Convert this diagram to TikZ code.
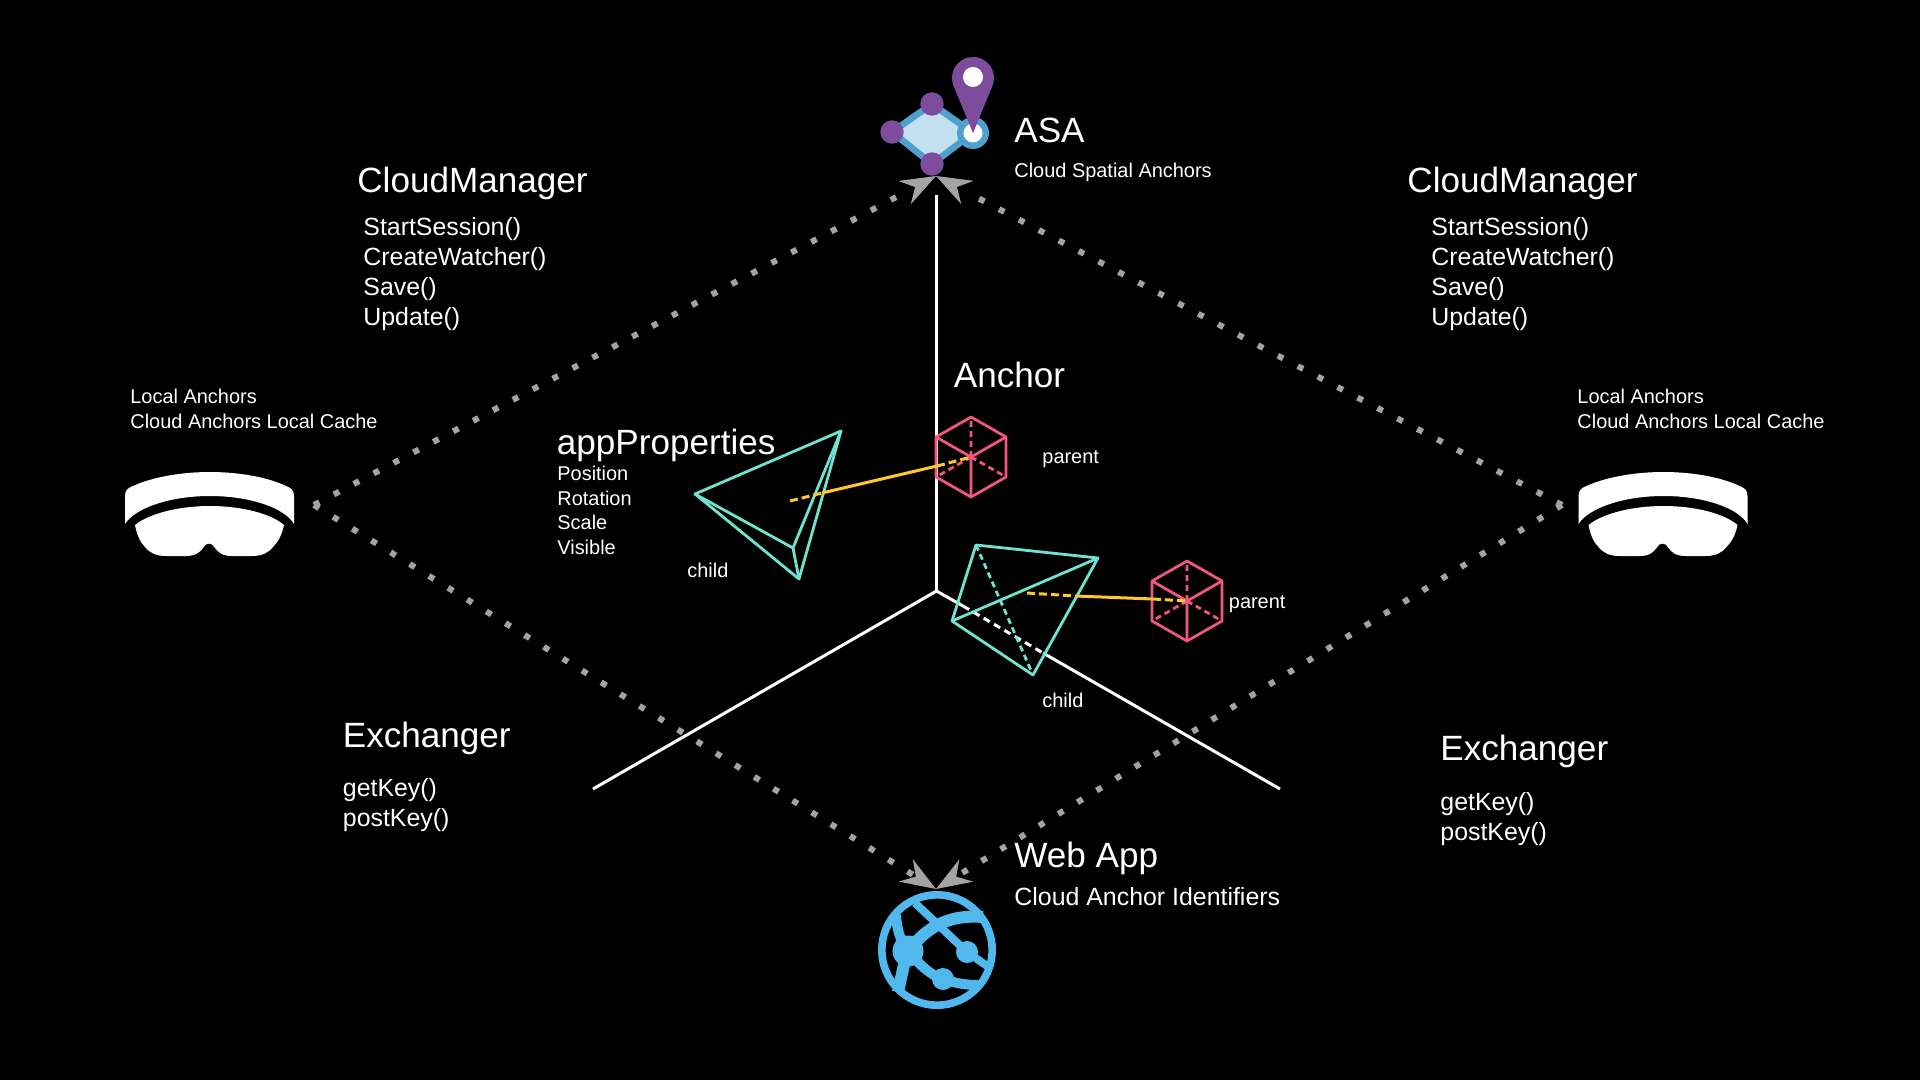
\documentclass[tikz,border=0pt]{standalone}
\usepackage{fontspec}
\setmainfont{Liberation Sans}
\usetikzlibrary{arrows.meta}
\definecolor{dotgray}{HTML}{A3A3A3}
\definecolor{cyanline}{HTML}{6FE3D0}
\definecolor{pinkline}{HTML}{F0567E}
\definecolor{goldline}{HTML}{FFC82D}
\definecolor{asapurple}{HTML}{7D4C9C}
\definecolor{asablue}{HTML}{50A0CF}
\definecolor{asalight}{HTML}{C3E1F0}
\definecolor{webblue}{HTML}{50B8EC}
\newcommand{\wingshape}{%
    \pgfpathmoveto{\pgfqpoint{0pt}{0pt}}%
    \pgfpathlineto{\pgfqpoint{-17.75pt}{6.6pt}}%
    \pgfpathlineto{\pgfqpoint{-11.85pt}{0pt}}%
    \pgfpathlineto{\pgfqpoint{-17.75pt}{-6.6pt}}%
    \pgfpathclose
    \pgfusepathqfill}
\pgfdeclarearrow{
  name=WingUp,
  setup code={
    \pgfarrowssettipend{0pt}
    \pgfarrowssetlineend{-18pt}
    \pgfarrowssetbackend{-17.75pt}
    \pgfarrowssetvisualbackend{-17.75pt}
  },
  drawing code={\wingshape}
}
\pgfdeclarearrow{
  name=WingDown,
  setup code={
    \pgfarrowssettipend{0pt}
    \pgfarrowssetlineend{-13pt}
    \pgfarrowssetbackend{-17.75pt}
    \pgfarrowssetvisualbackend{-17.75pt}
  },
  drawing code={\wingshape}
}
\tikzset{
  big/.style={text=white,inner sep=0pt,anchor=base west,font=\fontsize{17.55}{21}\selectfont},
  mid/.style={text=white,inner sep=0pt,anchor=north west,align=left,font=\fontsize{12.45}{15}\selectfont},
  small/.style={text=white,inner sep=0pt,anchor=north west,align=left,font=\fontsize{9.97}{12.25}\selectfont},
  linkbase/.style={draw=dotgray,line width=3pt,dash pattern=on 3pt off 8.25pt},
  linkup/.style={linkbase,-{WingUp[color=dotgray,fill=dotgray]}},
  linkdown/.style={linkbase,-{WingDown[color=dotgray,fill=dotgray]}},
  axis/.style={draw=white,line width=1.5pt},
  axisdash/.style={axis,dash pattern=on 3.5pt off 2.5pt},
  cy/.style={draw=cyanline,line width=1.4pt,line join=round},
  cydash/.style={cy,dash pattern=on 3pt off 2pt},
  pk/.style={draw=pinkline,line width=1.4pt,line join=round},
  pkdash/.style={pk,dash pattern=on 3pt off 2pt},
  gd/.style={draw=goldline,line width=1.5pt},
  gddash/.style={gd,dash pattern=on 4pt off 2pt},
  wb/.style={draw=webblue,line cap=butt},
  hexcube/.pic={
    \draw[pk] (0,-40) -- (35,-20) -- (35,20) -- (0,40) -- (-35,20) -- (-35,-20) -- cycle;
    \draw[pk] (-35,-20) -- (0,0) -- (35,-20) (0,0) -- (0,40);
    \draw[pkdash] (0,0) -- (0,-40) (0,0) -- (-35,20) (0,0) -- (35,20);
    \fill[pinkline] (0,0) circle (3);
  },
  headset/.pic={
    \fill[white] (125,524) -- (125,496) .. controls (125,490) and (128,488) .. (133,486)
      .. controls (155,476) and (185,472) .. (210,472)
      .. controls (235,472) and (265,476) .. (286,486)
      .. controls (291,488) and (294,490) .. (294,496) -- (294,524)
      .. controls (285,508) and (250,496) .. (210,496)
      .. controls (170,496) and (135,508) .. (125,524) -- cycle;
    \fill[white] (135,525) .. controls (150,513) and (180,506) .. (210,506)
      .. controls (240,506) and (270,513) .. (284,525)
      .. controls (282,535) and (278,542) .. (273,547)
      .. controls (268,553) and (262,556) .. (252,556)
      -- (232,556) .. controls (222,556) and (218,552) .. (215,548)
      .. controls (212,542) and (206,542) .. (203,548)
      .. controls (200,552) and (196,556) .. (186,556)
      -- (166,556) .. controls (156,556) and (150,553) .. (145,547)
      .. controls (140,542) and (137,535) .. (135,525) -- cycle;
  }
}
\begin{document}
\begin{tikzpicture}[x=0.5pt,y=-0.5pt]
\fill[black] (0,0) rectangle (1920,1080);
\useasboundingbox (0,0) rectangle (1920,1080);

% connection points
\coordinate (holoL) at (314,505);
\coordinate (holoR) at (1562,505);
\coordinate (asaTip) at (936,176);
\coordinate (webTip) at (936,889);
\coordinate (axisO) at (936.5,591);
\coordinate (axisUp) at (936.5,195);
\coordinate (axisLeft) at (593,789);
\coordinate (axisRight) at (1280,789);
\coordinate (axisD1) at (963,606);
\coordinate (axisD2) at (1043,653);

% axes
\draw[axis] (axisO) -- (axisUp);
\draw[axis,line join=miter] (axisLeft) -- (axisO) -- (axisD1);
\draw[axisdash] (axisD1) -- (axisD2);
\draw[axis] (axisD2) -- (axisRight);

% dotted links
\draw[linkup] (holoL) -- (asaTip);
\draw[linkup] (holoR) -- (asaTip);
\draw[linkdown] (holoL) -- (webTip);
\draw[linkdown] (holoR) -- (webTip);

% headsets
\pic at (0,0) {headset};
\pic at (1453.5,0) {headset};

% ASA icon
\draw[draw=asablue,fill=asalight,line width=3.3pt,line join=round]
  (892,132) -- (932,104) -- (973,133) -- (932,164) -- cycle;
\fill[asapurple] (892,132) circle (11.7) (932,104) circle (11.7) (932,164) circle (11.7);
\fill[asablue] (973,133) circle (16);
\fill[white] (973,133) circle (9.5);
\fill[asapurple] (973,78) circle (21);
\fill[asapurple] (973,133) -- (953.6,86) -- (992.4,86) -- cycle;
\fill[white] (973,77) circle (10);

% web icon
\draw[wb,line width=3.8pt] (937,950) circle (55.2);
\draw[wb,line width=6pt] (908,951) .. controls (925,930) and (945,914) .. (983,917);
\draw[wb,line width=4pt] (915,903) -- (967,952) -- (990,968);
\draw[wb,line width=5pt] (908,951) .. controls (920,965) and (930,975) .. (943,979) .. controls (955,983) and (965,985) .. (978,985);
\draw[wb,line width=5pt] (896,915) .. controls (897,930) and (900,940) .. (908,951);
\draw[wb,line width=6pt] (905,960) -- (898,992);
\fill[webblue] (908,951) circle (15.5) (967,952) circle (11) (943,979) circle (11);

% left child pyramid
\coordinate (ta) at (841,431);
\coordinate (tb) at (695,494);
\coordinate (tc) at (799,579);
\coordinate (td) at (793,548);
\draw[cy] (ta) -- (tb) -- (tc) -- cycle;
\draw[cy] (tb) -- (td) -- (tc) (ta) -- (td);
% right child pyramid
\coordinate (ua) at (976,545);
\coordinate (ub) at (1098,558);
\coordinate (uc) at (952,621);
\coordinate (ud) at (1033,675);
\draw[cy] (ua) -- (ub) -- (ud) -- (uc) -- cycle;
\draw[cy] (uc) -- (ub);
\draw[cydash] (ua) -- (ud);

% hex cubes
\pic at (971,457) {hexcube};
\pic at (1187,601) {hexcube};

% gold links
\coordinate (g1) at (790,501);
\coordinate (g2) at (822,493);
\coordinate (g3) at (937,466);
\coordinate (g4) at (971,457);
\draw[gddash] (g1) -- (g2);
\draw[gd] (g2) -- (g3);
\draw[gddash] (g3) -- (g4);
\coordinate (h1) at (1027,593);
\coordinate (h2) at (1075,596);
\coordinate (h3) at (1153,599);
\coordinate (h4) at (1187,601);
\draw[gddash] (h1) -- (h2);
\draw[gd] (h2) -- (h3);
\draw[gddash] (h3) -- (h4);

% texts
\node[big] (cmL) at (357,193) {CloudManager};
\node[mid] (cmLm) at (363,216.8) {StartSession()\\CreateWatcher()\\Save()\\Update()};
\node[big] (cmR) at (1407,193) {CloudManager};
\node[mid] (cmRm) at (1431,216.8) {StartSession()\\CreateWatcher()\\Save()\\Update()};
\node[big] (asa) at (1014,143) {ASA};
\node[small] (asas) at (1014,163) {Cloud Spatial Anchors};
\node[big] (anchor) at (953.5,387) {Anchor};
\node[big] (app) at (556.5,454) {appProperties};
\node[small] (appl) at (557,466) {Position\\Rotation\\Scale\\Visible};
\node[small] (child1) at (687,563) {child};
\node[small] (parent1) at (1042,450) {parent};
\node[small] (parent2) at (1228.5,595) {parent};
\node[small] (child2) at (1042,693) {child};
\node[small] (locL) at (130,389) {Local Anchors\\Cloud Anchors Local Cache};
\node[small] (locR) at (1577,389) {Local Anchors\\Cloud Anchors Local Cache};
\node[big] (exL) at (342.5,747) {Exchanger};
\node[mid] (exLm) at (342.5,778) {getKey()\\postKey()};
\node[big] (exR) at (1440,760) {Exchanger};
\node[mid] (exRm) at (1440,792) {getKey()\\postKey()};
\node[big] (web) at (1014,867) {Web App};
\node[mid] (webs) at (1014,887) {Cloud Anchor Identifiers};
\end{tikzpicture}
\end{document}
